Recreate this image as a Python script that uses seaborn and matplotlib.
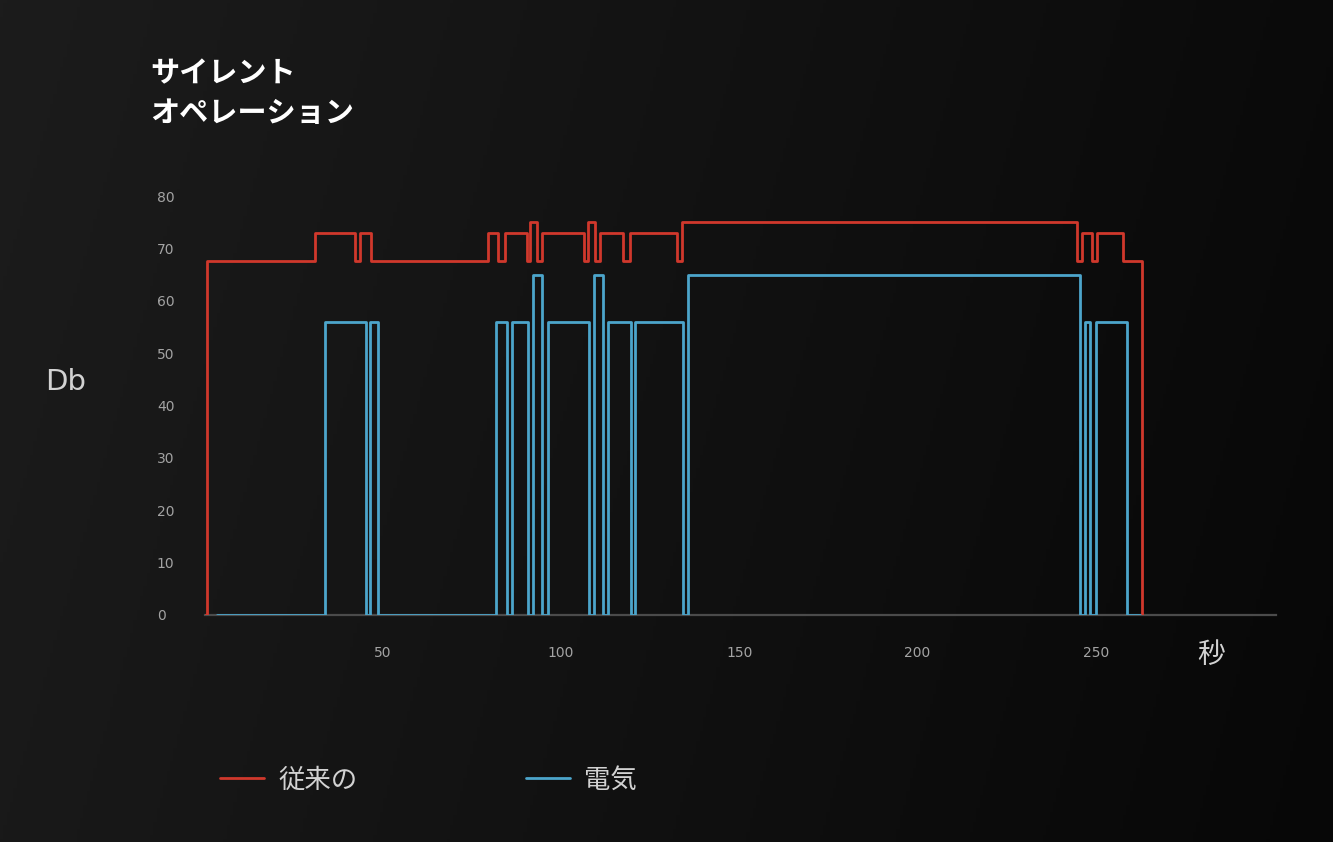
import numpy as np
import pandas as pd
import matplotlib
matplotlib.use("Agg")
import matplotlib.pyplot as plt
import seaborn as sns

# step data (seconds, dB), drawn as steps-post
conv_t = [0.0, 0.6, 31.0, 42.1, 43.5, 46.6, 79.5, 82.3, 84.2, 90.4, 91.2, 93.2,
          94.6, 106.4, 107.5, 109.5, 110.9, 117.3, 119.3, 132.5, 133.9, 244.7,
          246.1, 248.9, 250.5, 257.6, 262.9]
conv_db = [0, 67.5, 73, 67.5, 73, 67.5, 73, 67.5, 73, 67.5, 75, 67.5,
           73, 67.5, 75, 67.5, 73, 67.5, 73, 67.5, 75, 67.5,
           73, 67.5, 73, 67.5, 0]

elec_t = [3.4, 33.7, 45.2, 46.4, 48.6, 81.7, 84.8, 86.2, 90.7, 92.1, 94.6, 96.3,
          107.8, 109.2, 111.7, 113.1, 119.5, 120.7, 134.1, 135.5, 245.5, 246.9,
          248.3, 250.0, 258.7, 262.4]
elec_db = [0, 56, 0, 56, 0, 56, 0, 56, 0, 65, 0, 56,
           0, 65, 0, 56, 0, 56, 0, 65, 0, 56,
           0, 56, 0, 0]

y_ticks = [0, 10, 20, 30, 40, 50, 60, 70, 80]
x_ticks = [50, 100, 150, 200, 250]

series_names = ["従来の", "電気"]
red = "#d0382c"
blue = "#4ca5cb"

sns.set_theme(style="dark")
plt.rcParams['font.family'] = ['Noto Sans CJK JP', 'DejaVu Sans']

df = pd.concat([
    pd.DataFrame({"t": conv_t, "db": conv_db, "kind": series_names[0]}),
    pd.DataFrame({"t": elec_t, "db": elec_db, "kind": series_names[1]}),
])

fig = plt.figure(figsize=(13.33, 8.42), dpi=100)

# dark gradient background
bg = fig.add_axes([0, 0, 1, 1], zorder=-10)
xx = np.linspace(0, 1, 400)
yy = np.linspace(0, 1, 250)
X, Y = np.meshgrid(xx, yy)
shade = 0.098 - 0.07 * X + 0.012 * (1 - Y)
bg.imshow(np.dstack([shade, shade, shade]), aspect="auto", extent=[0, 1, 0, 1], origin="upper")
bg.set_axis_off()

ax = fig.add_axes([0.1536, 0.2696, 0.8036, 0.4976])
ax.set_facecolor("none")

sns.lineplot(data=df, x="t", y="db", hue="kind", palette=[red, blue],
             estimator=None, sort=False, drawstyle="steps-post",
             linewidth=2.0, ax=ax, legend=True, zorder=3)

ax.set_xlim(0, 300.6)
ax.set_ylim(0, 80)
ax.set_xticks(x_ticks)
ax.set_yticks(y_ticks)
ax.grid(False)
for side in ["top", "right", "left"]:
    ax.spines[side].set_visible(False)
ax.spines["bottom"].set_color("#4b4b4b")
ax.spines["bottom"].set_linewidth(1.6)
ax.spines["bottom"].set_zorder(1)
ax.tick_params(axis="both", length=0, labelsize=10, colors="#a3a3a3")
ax.tick_params(axis="y", pad=34.5)
ax.tick_params(axis="x", pad=22)
for lab in ax.get_yticklabels():
    lab.set_horizontalalignment("left")
    lab.set_family("DejaVu Sans")
for lab in ax.get_xticklabels():
    lab.set_family("DejaVu Sans")
ax.set_xlabel("")
ax.set_ylabel("")

# legend under the chart
handles, labels = ax.get_legend_handles_labels()
ax.legend(handles, labels, loc="center left", bbox_to_anchor=(220 / 1333, 0.0736),
          bbox_transform=fig.transFigure, ncol=2, frameon=False, fontsize=19,
          handlelength=1.65, handletextpad=0.55, columnspacing=6.4,
          borderpad=0, borderaxespad=0, labelcolor="#d2d2d2")

# texts
fig.text(150 / 1333, 1 - 73 / 842, "サイレント", color="white", fontsize=21,
         fontweight="bold", va="center", ha="left")
fig.text(150 / 1333, 1 - 113 / 842, "オペレーション", color="white", fontsize=21,
         fontweight="bold", va="center", ha="left")
fig.text(45 / 1333, 1 - 382 / 842, "Db", color="#d2d2d2", fontsize=21,
         va="center", ha="left", family="DejaVu Sans")
fig.text(1211 / 1333, 1 - 655 / 842, "秒", color="#d2d2d2", fontsize=20,
         va="center", ha="center")

fig.savefig("out.png", dpi=100)
plt.close()
